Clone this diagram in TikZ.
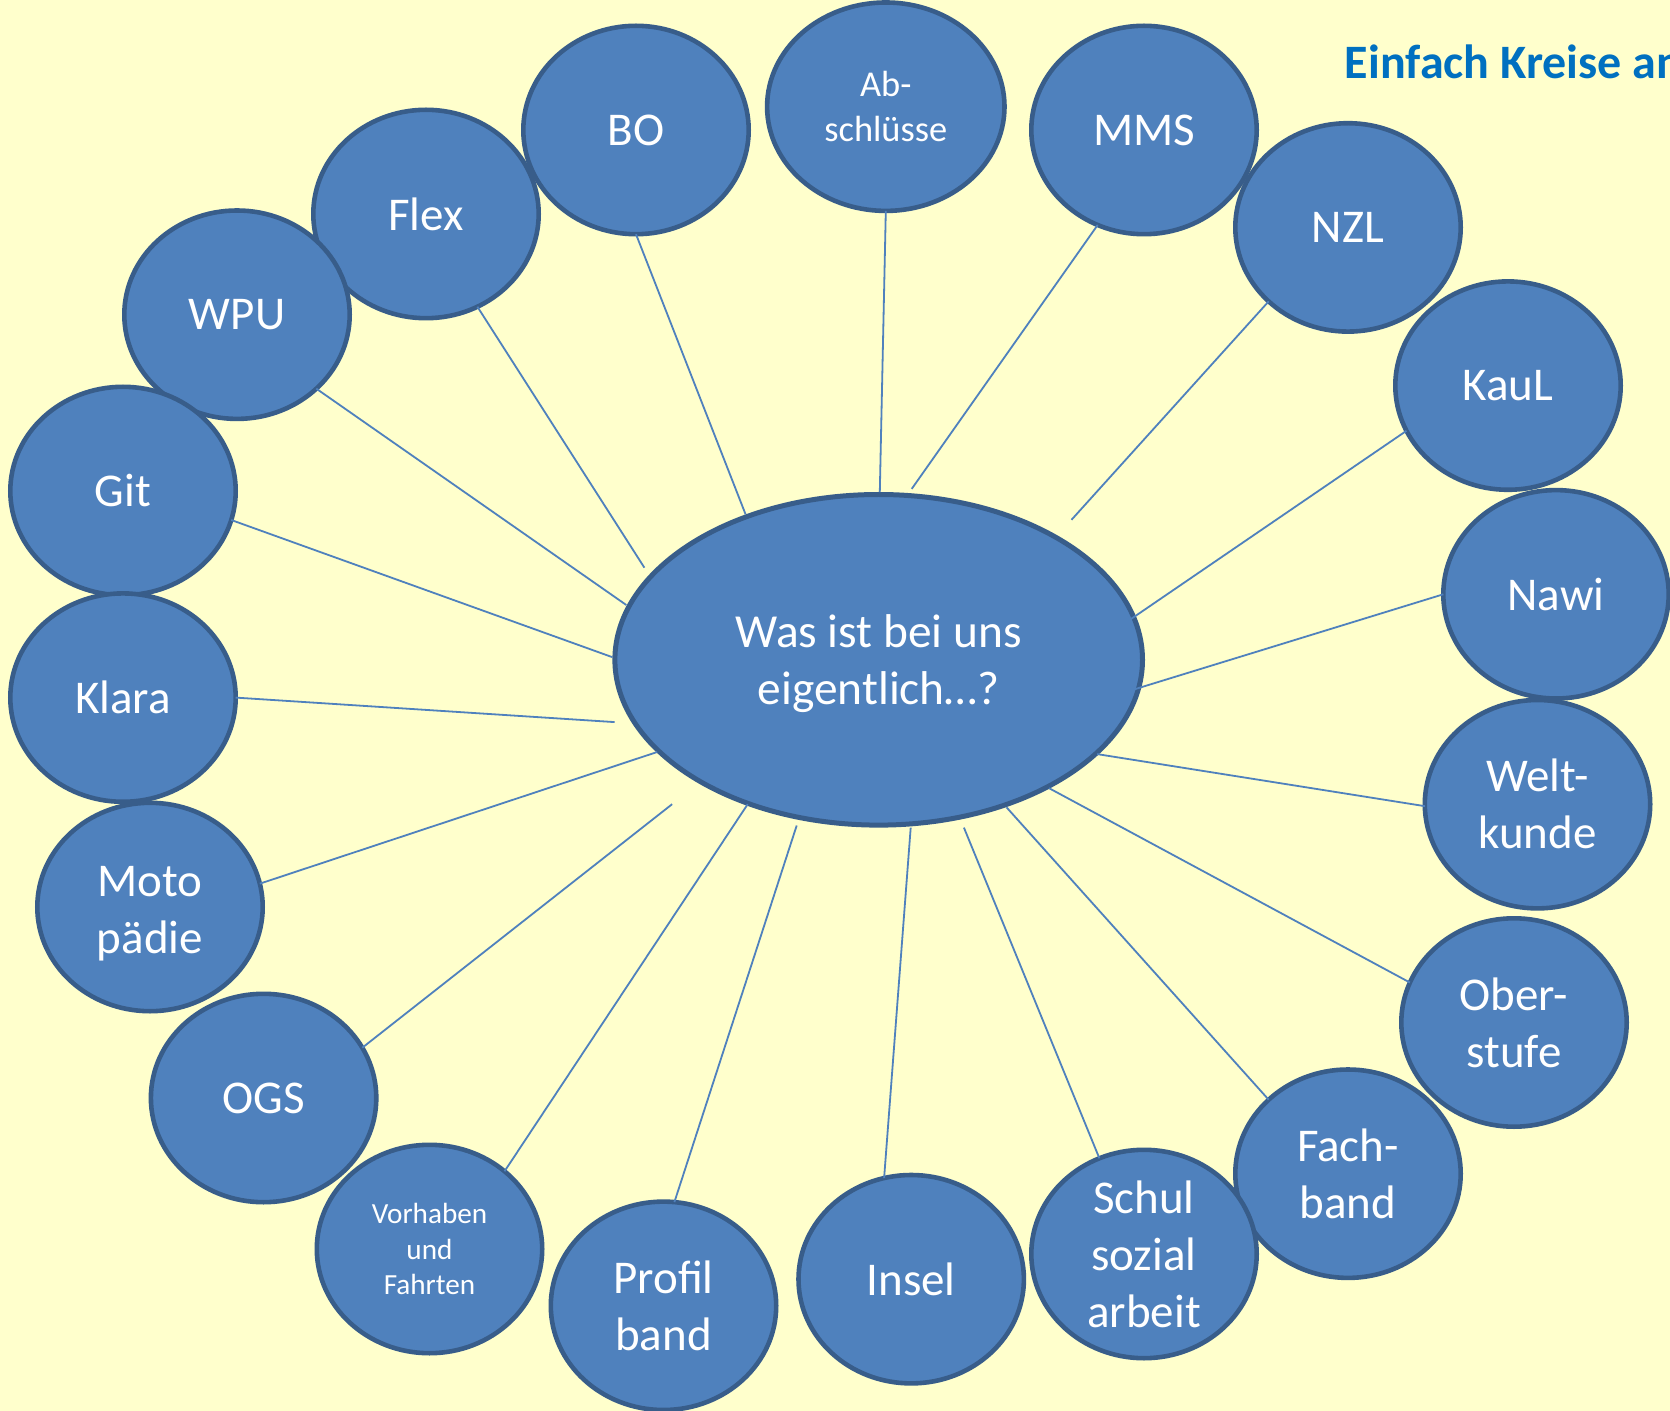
\documentclass[tikz,border=0pt]{standalone}
\usepackage{fontspec}
\setmainfont{Carlito}
\usetikzlibrary{shapes.geometric}
\definecolor{bgyellow}{HTML}{FFFFCC}
\definecolor{bubblefill}{HTML}{4F81BD}
\definecolor{rim}{HTML}{385D8A}
\definecolor{titleblue}{HTML}{0070C0}
\begin{document}
\begin{tikzpicture}[x=0.5pt,y=-0.5pt,
  bubble/.style={ellipse, draw=rim, line width=2.3pt, fill=bubblefill, text=white,
    inner sep=-20pt, outer sep=0pt, minimum width=112.7pt, minimum height=104.2pt,
    align=center, font=\fontsize{23.5}{28.5}\selectfont},
  smalltext/.style={font=\fontsize{18.2}{22.8}\selectfont},
  tinytext/.style={font=\fontsize{14.6}{17.8}\selectfont},
  hub/.style={ellipse, draw=rim, line width=2.5pt, fill=bubblefill, text=white,
    inner sep=-20pt, outer sep=0pt, minimum width=263.8pt, minimum height=165.3pt,
    align=center, font=\fontsize{23.7}{28.5}\selectfont},
  spoke/.style={draw=bubblefill, line width=0.9pt}]
\fill[bgyellow] (0,0) rectangle (1670,1411);
\useasboundingbox (0,0) rectangle (1670,1411);
\clip (0,0) rectangle (1670,1411);

\node[anchor=base west, inner sep=0pt, text=titleblue,
  font=\bfseries\fontsize{24}{28}\selectfont] (title) at (1344.5,78.3) {Einfach Kreise an};

\node[hub, text depth=0pt] (c) at (878.7,659.8) {Was ist bei uns\\eigentlich…?};

\node[bubble, smalltext, minimum width=118.7pt] (ab) at (885.8,106.7) {Ab-\\schlüsse};
\node[bubble] (bo) at (636,130) {BO};
\node[bubble] (mms) at (1144,130) {MMS};
\node[bubble] (flex) at (426,214) {Flex};
\node[bubble] (nzl) at (1348,227.4) {NZL};
\node[bubble] (wpu) at (237,314.7) {WPU};
\node[bubble] (kaul) at (1508,385.6) {KauL};
\node[bubble] (git) at (123,491) {Git};
\node[bubble] (nawi) at (1556,594.3) {Nawi};
\node[bubble] (klara) at (123,697.6) {Klara};
\node[bubble] (welt) at (1537.5,804.2) {Welt-\\kunde};
\node[bubble] (moto) at (150,907) {\rule{0pt}{22pt}Moto\\pädie};
\node[bubble] (ober) at (1514,1022.5) {Ober-\\stufe};
\node[bubble] (ogs) at (263.6,1098) {OGS};
\node[bubble] (fach) at (1348,1173.7) {Fach-\\band};
\node[bubble, tinytext] (vorh) at (429.5,1249) {Vorhaben\\und\\Fahrten};
\node[bubble] (schul) at (1144,1254) {Schul\\sozial\\arbeit};
\node[bubble] (profil) at (663.5,1305.8) {Profil\\band};
\node[bubble] (insel) at (911.2,1279.2) {Insel};

\coordinate (iab) at (879.8,492.1);
\coordinate (ibo) at (745.6,514.4);
\coordinate (imms) at (911.7,488.9);
\coordinate (iflex) at (644.4,567.7);
\coordinate (inzl) at (1071.5,519.8);
\coordinate (iwpu) at (626.3,605.0);
\coordinate (ikaul) at (1070.4,660.4);
\coordinate (igit) at (612.4,657.2);
\coordinate (inawi) at (1097.1,700.8);
\coordinate (iklara) at (614.6,722.1);
\coordinate (iwelt) at (1097.1,754.1);
\coordinate (imoto) at (657.2,752.0);
\coordinate (iober) at (1049.1,788.2);
\coordinate (iogs) at (672.1,804.2);
\coordinate (ifach) at (1006.5,807.3);
\coordinate (ivorh) at (747.7,804.2);
\coordinate (ischul) at (963.9,827.6);
\coordinate (iprofil) at (796.7,825.5);
\coordinate (iinsel) at (910.7,827.6);

\draw[spoke] (iab) -- (ab.270);
\draw[spoke] (ibo) -- (bo.270);
\draw[spoke] (imms) -- (mms.244.7);
\draw[spoke] (iflex) -- (flex.299.4);
\draw[spoke] (inzl) -- (nzl.223.5);
\draw[spoke] (iwpu) -- (wpu.317.3);
\draw[spoke] (ikaul) -- (kaul.204);
\draw[spoke] (igit) -- (git.345.3);
\draw[spoke] (inawi) -- (nawi.180.5);
\draw[spoke] (iklara) -- (klara.0);
\draw[spoke] (iwelt) -- (welt.181);
\draw[spoke] (imoto) -- (moto.12.6);
\draw[spoke] (iober) -- (ober.159.1);
\draw[spoke] (iogs) -- (ogs.27.2);
\draw[spoke] (ifach) -- (fach.137.1);
\draw[spoke] (ivorh) -- (vorh.46.3);
\draw[spoke] (ischul) -- (schul.115.4);
\draw[spoke] (iprofil) -- (profil.84.2);
\draw[spoke] (iinsel) -- (insel.105.2);
\end{tikzpicture}
\end{document}
